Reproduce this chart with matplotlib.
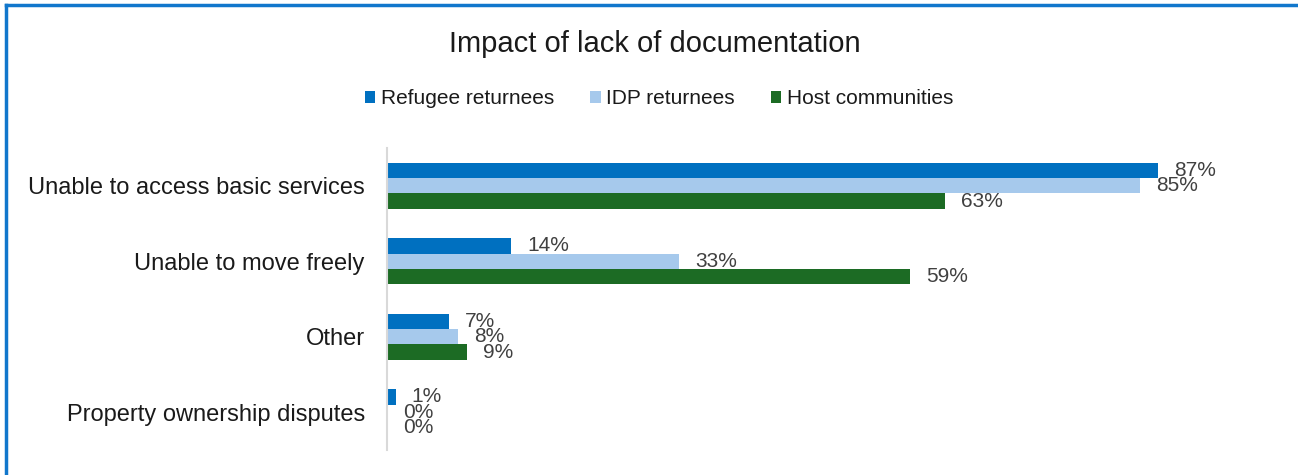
import matplotlib
matplotlib.use('Agg')
import matplotlib.pyplot as plt
from matplotlib.lines import Line2D
from matplotlib.patches import Patch

plt.rcParams['font.family'] = ['Liberation Sans', 'DejaVu Sans']

categories = ['Unable to access basic services', 'Unable to move freely', 'Other',
              'Property ownership disputes']
series = ['Refugee returnees', 'IDP returnees', 'Host communities']
refugee = [87, 14, 7, 1]
idp = [85, 33, 8, 0]
host = [63, 59, 9, 0]

COLORS = ['#0070C0', '#A6C9EC', '#1C6B24']
LABEL_COLOR = '#404040'

W, H = 1298, 475
fig = plt.figure(figsize=(W / 100, H / 100), dpi=100)
fig.patch.set_facecolor('white')

# plot area in pixel coords -> figure fraction
x0, x1 = 387, 1273
y0, y1 = 148, 450
ax = fig.add_axes([x0 / W, 1 - y1 / H, (x1 - x0) / W, (y1 - y0) / H])

bar_h = 0.205
ys = list(range(len(categories)))
for k, vals in enumerate([refugee, idp, host]):
    pos = [y + (k - 1) * bar_h for y in ys]
    bars = ax.barh(pos, vals, height=bar_h, color=COLORS[k], label=series[k])
    ax.bar_label(bars, labels=['%d%%' % v for v in vals], padding=11.5,
                 fontsize=15, color=LABEL_COLOR)

ax.set_xlim(0, 100)
ax.set_ylim(len(categories) - 0.5, -0.5)
ax.set_yticks(ys)
ax.set_yticklabels(categories, fontsize=17, color='#1a1a1a')
ax.tick_params(axis='y', length=0, pad=16)
ax.set_xticks([])
for s in ['top', 'right', 'bottom']:
    ax.spines[s].set_visible(False)
ax.spines['left'].set_color('#D9D9D9')
ax.spines['left'].set_linewidth(1.5)

# title and legend
fig.text(655 / W, 1 - 44 / H, 'Impact of lack of documentation', ha='center', va='center',
         fontsize=21, color='#1a1a1a')
handles = [Patch(facecolor=c, edgecolor='none') for c in COLORS]
fig.legend(handles, series, loc='center', bbox_to_anchor=(659 / W, 1 - 99 / H), ncol=3,
           frameon=False, fontsize=15, handlelength=0.5, handleheight=0.5,
           handletextpad=0.25, columnspacing=1.75, labelcolor='#1a1a1a')

# chart border (top and left visible)
bc = '#1177CC'
fig.add_artist(Line2D([6 / W, 1.0], [1 - 5 / H, 1 - 5 / H], color=bc, lw=2.5,
                      transform=fig.transFigure))
fig.add_artist(Line2D([6 / W, 6 / W], [1 - 5 / H, 0.0], color=bc, lw=2.5,
                      transform=fig.transFigure))

fig.savefig('out.png', dpi=100, facecolor='white')
